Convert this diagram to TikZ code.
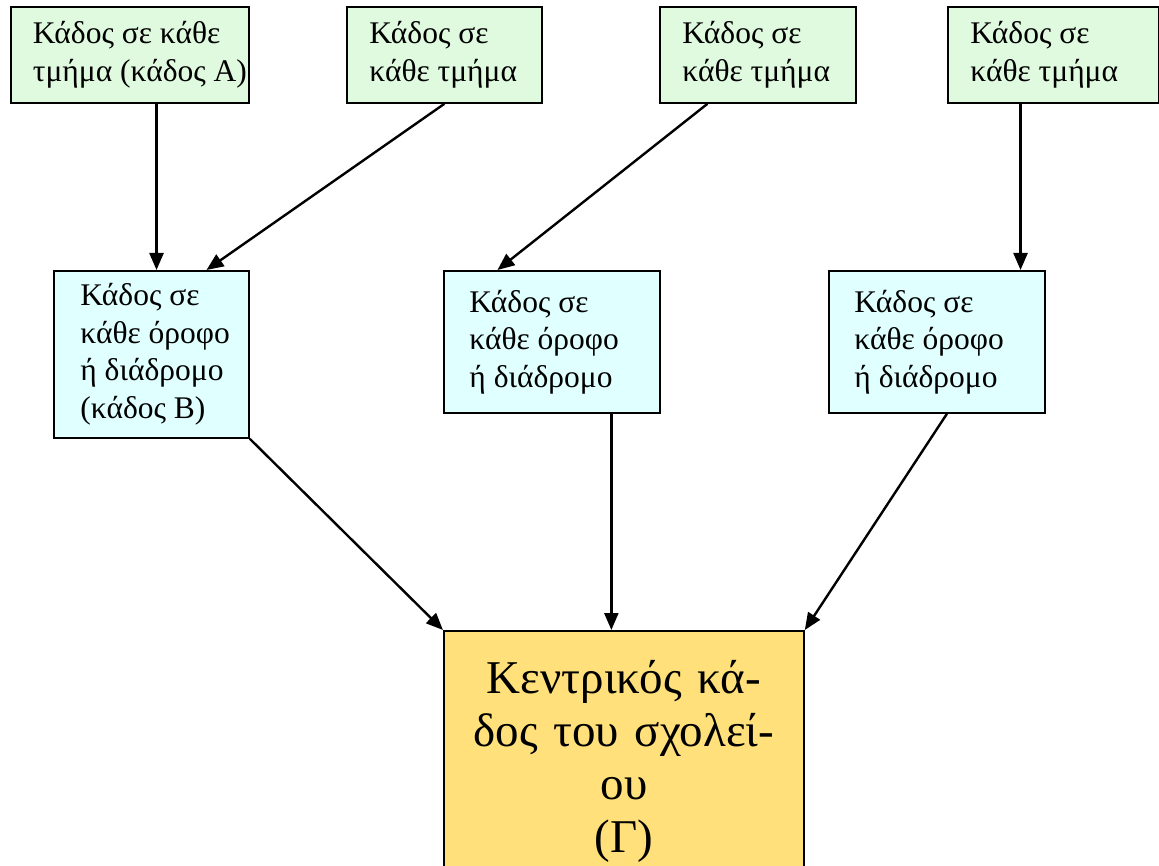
\documentclass[tikz,border=0pt]{standalone}
\usepackage{fontspec}
\setmainfont{Liberation Serif}
\usetikzlibrary{arrows.meta,calc}
\definecolor{boxgreen}{RGB}{224,250,224}
\definecolor{boxcyan}{RGB}{224,255,255}
\definecolor{boxyellow}{RGB}{255,224,122}
\begin{document}
\begin{tikzpicture}[x=1pt,y=-1pt,
  box/.style={draw=black,line width=1.8pt,anchor=north west,inner xsep=0pt,inner ysep=0pt,
    font=\fontsize{31.5}{37.5}\selectfont,align=left},
  topbox/.style={box,fill=boxgreen},
  midbox/.style={box,fill=boxcyan},
  mainbox/.style={draw=black,line width=1.8pt,anchor=north west,fill=boxyellow,inner sep=0pt,
    font=\fontsize{47}{53}\selectfont,align=center},
  conn/.style={line width=2.4pt,-{Triangle[length=17pt,width=14pt]}}]
\useasboundingbox (0,0) rectangle (1159,866);
\clip (0,0) rectangle (1159,866);
% top boxes
\node[topbox,minimum width=238,minimum height=96] (t1) at (10,6)
  {\hspace*{20pt}\parbox[c]{214pt}{Κάδος σε κάθε\\τμήμα (κάδος Α)}};
\node[topbox,minimum width=195,minimum height=96] (t2) at (346,6)
  {\hspace*{20pt}\parbox[c]{170pt}{Κάδος σε\\κάθε τμήμα}};
\node[topbox,minimum width=196,minimum height=96] (t3) at (659,6)
  {\hspace*{20pt}\parbox[c]{171pt}{Κάδος σε\\κάθε τμήμα}};
\node[topbox,minimum width=211,minimum height=96] (t4) at (947,6)
  {\hspace*{20pt}\parbox[c]{186pt}{Κάδος σε\\κάθε τμήμα}};
% middle boxes
\node[midbox,minimum width=195,minimum height=167] (m1) at (53,270)
  {\hspace*{24pt}\parbox[c]{166pt}{Κάδος σε\\κάθε όροφο\\ή διάδρομο\\(κάδος Β)}};
\node[midbox,minimum width=216,minimum height=142] (m2) at (443,270)
  {\hspace*{23pt}\parbox[c]{188pt}{Κάδος σε\\κάθε όροφο\\ή διάδρομο}};
\node[midbox,minimum width=216,minimum height=142] (m3) at (828,270)
  {\hspace*{23pt}\parbox[c]{188pt}{Κάδος σε\\κάθε όροφο\\ή διάδρομο}};
% bottom box
\node[mainbox,minimum width=360,minimum height=262,text width=360] (b) at (443,630)
  {Κεντρικός κά-\\δος του σχολεί-\\ου\\(Γ)};
% connectors
\coordinate (a1) at ($(t1.south west)!0.611!(t1.south east)$);
\draw[conn] (a1) -- (a1 |- m1.north);
\draw[conn] (t2.south) -- ($(m1.north west)!0.78!(m1.north east)$);
\draw[conn] ($(t3.south west)!0.245!(t3.south east)$) -- ($(m2.north west)!0.25!(m2.north east)$);
\coordinate (a4) at ($(m3.north west)!0.884!(m3.north east)$);
\draw[conn] (a4 |- t4.south) -- (a4);
\draw[conn] (m1.south east) -- (b.north west);
\coordinate (a5) at ($(m2.south west)!0.773!(m2.south east)$);
\draw[conn] (a5) -- (a5 |- b.north);
\draw[conn] ($(m3.south west)!0.546!(m3.south east)$) -- (b.north east);
\end{tikzpicture}
\end{document}
